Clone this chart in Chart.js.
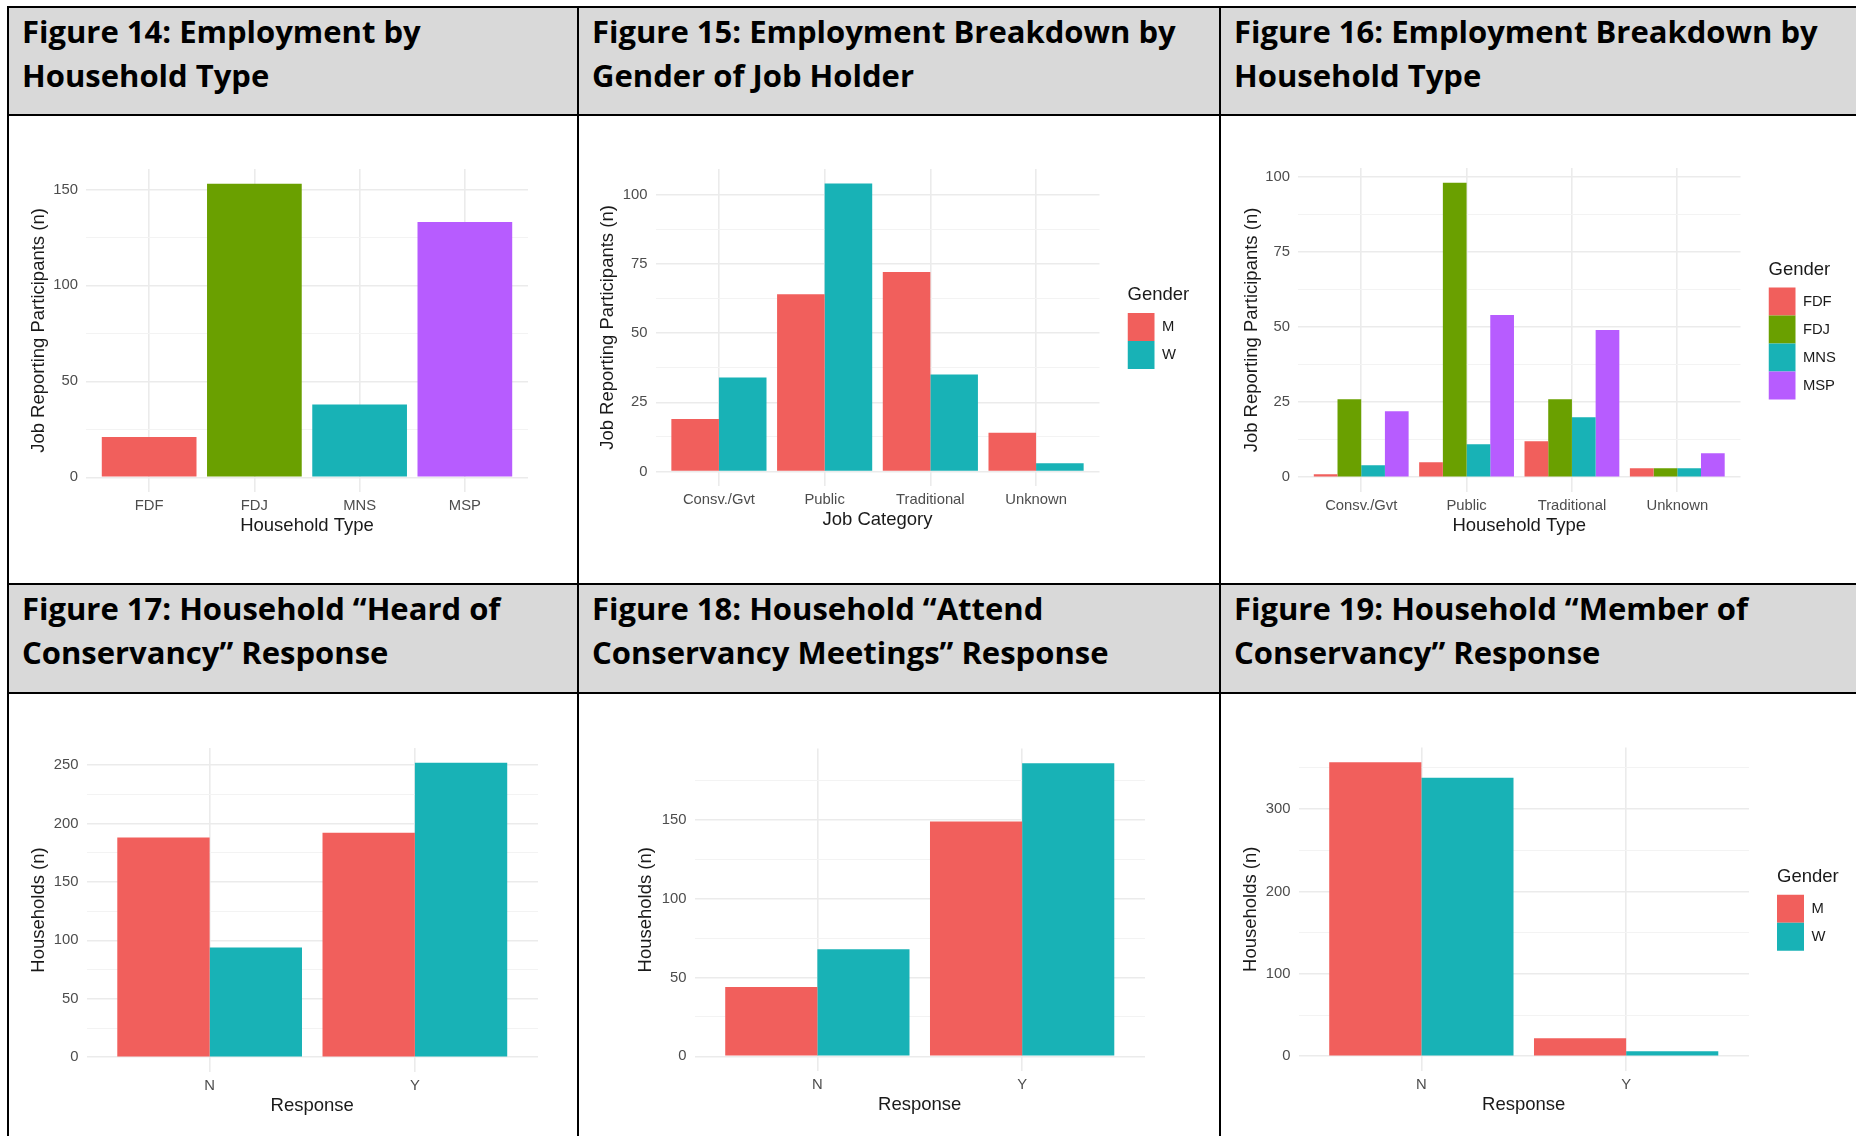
<!DOCTYPE html>
<html>
<head>
<meta charset="utf-8">
<title>Employment and conservancy response figures</title>
<script src="https://cdn.jsdelivr.net/npm/chart.js@4.4.1/dist/chart.umd.min.js"></script>
<style>
  html, body { margin: 0; padding: 0; background: #fff; }
  body { width: 1856px; height: 1136px; position: relative; overflow: hidden; }
  .cell { position: absolute; box-sizing: border-box; border: 2px solid #000; }
  .head {
    background: #d9d9d9;
    font: 700 31px/44px 'Open Sans', sans-serif;
    color: #000;
    padding: 1px 0 0 13px;
    white-space: nowrap;
  }
  .body { background: #fff; }
  canvas { position: absolute; }
</style>
</head>
<body>

<!-- top row -->
<div class="cell head" style="left:7px;top:6px;width:572px;height:110px">Figure 14: Employment by<br>Household Type</div>
<div class="cell head" style="left:577px;top:6px;width:644px;height:110px">Figure 15: Employment Breakdown by<br>Gender of Job Holder</div>
<div class="cell head" style="left:1219px;top:6px;width:700px;height:110px">Figure 16: Employment Breakdown by<br>Household Type</div>
<div class="cell body" style="left:7px;top:114px;width:572px;height:471px"></div>
<div class="cell body" style="left:577px;top:114px;width:644px;height:471px"></div>
<div class="cell body" style="left:1219px;top:114px;width:700px;height:471px"></div>

<!-- bottom row -->
<div class="cell head" style="left:7px;top:583px;width:572px;height:111px">Figure 17: Household “Heard of<br>Conservancy” Response</div>
<div class="cell head" style="left:577px;top:583px;width:644px;height:111px">Figure 18: Household “Attend<br>Conservancy Meetings” Response</div>
<div class="cell head" style="left:1219px;top:583px;width:700px;height:111px">Figure 19: Household “Member of<br>Conservancy” Response</div>
<div class="cell body" style="left:7px;top:692px;width:572px;height:500px"></div>
<div class="cell body" style="left:577px;top:692px;width:644px;height:500px"></div>
<div class="cell body" style="left:1219px;top:692px;width:700px;height:500px"></div>

<canvas id="fig14" width="568" height="467" style="left:9px;top:116px"></canvas>
<canvas id="fig15" width="640" height="467" style="left:579px;top:116px"></canvas>
<canvas id="fig16" width="635" height="467" style="left:1221px;top:116px"></canvas>
<canvas id="fig17" width="568" height="442" style="left:9px;top:694px"></canvas>
<canvas id="fig18" width="640" height="442" style="left:579px;top:694px"></canvas>
<canvas id="fig19" width="635" height="442" style="left:1221px;top:694px"></canvas>

<script>
// ---- data ----
const householdTypes = ['FDF', 'FDJ', 'MNS', 'MSP'];
const jobsByHousehold = [21, 153, 38, 133];

const jobCategories = ['Consv./Gvt', 'Public', 'Traditional', 'Unknown'];
const jobsMen = [19, 64, 72, 14];
const jobsWomen = [34, 104, 35, 3];

const jobsFDF = [1, 5, 12, 3];
const jobsFDJ = [26, 98, 26, 3];
const jobsMNS = [4, 11, 20, 3];
const jobsMSP = [22, 54, 49, 8];

const responses = ['N', 'Y'];
const heardMen = [188, 192];
const heardWomen = [94, 252];
const attendMen = [44, 149];
const attendWomen = [68, 186];
const memberMen = [357, 22];
const memberWomen = [338, 6];

// ---- look ----
const FAMILY = "'Liberation Sans', Arial, sans-serif";
const RED = '#F15F5C';
const GREEN = '#6AA000';
const TEAL = '#18B2B6';
const PURPLE = '#B75CFF';
const AXIS_TEXT = '#4d4d4d';
const TITLE_TEXT = '#1a1a1a';
const GRID_MAJOR = '#ebebeb';
const GRID_MINOR = '#f3f3f3';
const TICK_SIZE = 14.8;
const TITLE_SIZE = 18.5;
const X_AXIS_H = 45;
const LEGEND_GAP = 28;
const LEGEND_W = 75;

// plot panels on the page (left, top, right, bottom) and the y title centre
const frames = {
  fig14: { left: 86, top: 169, right: 528, bottom: 492, yTitle: 39 },
  fig15: { left: 655.5, top: 169, right: 1099.5, bottom: 486, yTitle: 608 },
  fig16: { left: 1298, top: 168, right: 1740.5, bottom: 492, yTitle: 1251.5 },
  fig17: { left: 86.5, top: 748, right: 538, bottom: 1072, yTitle: 39 },
  fig18: { left: 694.5, top: 748.5, right: 1145, bottom: 1071, yTitle: 646 },
  fig19: { left: 1298.5, top: 747.5, right: 1749, bottom: 1071, yTitle: 1250.5 }
};

// the legend box gets a fixed width so the panel does not move with label length
const fixedLegendWidth = {
  id: 'fixedLegendWidth',
  afterInit(chart) {
    const legend = chart.legend;
    if (!legend) return;
    const fit = legend.fit;
    legend.fit = function () {
      fit.call(this);
      if (this.options.display) this.width = LEGEND_W;
    };
  }
};

// ggplot-style dodged bar chart: 5% value padding, 0.6 category padding,
// minor grid lines halfway between the labelled ones
function ggBarChart(id, spec) {
  const canvas = document.getElementById(id);
  const frame = frames[id];
  const x0 = canvas.offsetLeft;
  const y0 = canvas.offsetTop;
  const titleLeft = frame.yTitle - TITLE_SIZE * 0.6;
  const peak = Math.max(...spec.series.flatMap(s => s.values));
  const n = spec.categories.length;
  const legendRoom = spec.legend ? LEGEND_GAP + LEGEND_W : 0;
  const isMajor = v => Math.abs(v / spec.major - Math.round(v / spec.major)) < 1e-6;

  const tickFont = { family: FAMILY, size: TICK_SIZE };
  const titleFont = { family: FAMILY, size: TITLE_SIZE };

  const scales = {
    x: {
      type: 'linear',
      min: 1 - 0.6,
      max: n + 0.6,
      offset: false,
      border: { display: false },
      grid: { offset: false, color: GRID_MAJOR, lineWidth: 1.6, drawTicks: false },
      ticks: {
        stepSize: 1,
        includeBounds: false,
        autoSkip: false,
        maxRotation: 0,
        padding: 5,
        color: AXIS_TEXT,
        font: tickFont,
        callback: v => spec.categories[Math.round(v) - 1]
      },
      title: { display: true, text: spec.xTitle, color: TITLE_TEXT, font: titleFont, padding: 0 },
      afterFit: s => { s.height = X_AXIS_H; }
    },
    y: {
      min: -0.05 * peak,
      max: 1.05 * peak,
      border: { display: false },
      grid: {
        drawTicks: false,
        color: c => isMajor(c.tick.value) ? GRID_MAJOR : GRID_MINOR,
        lineWidth: c => isMajor(c.tick.value) ? 1.6 : 1
      },
      ticks: {
        stepSize: spec.major / 2,
        includeBounds: false,
        padding: 8,
        color: AXIS_TEXT,
        font: tickFont,
        callback: v => isMajor(v) ? String(Math.round(v)) : ''
      },
      title: { display: true, text: spec.yTitle, color: TITLE_TEXT, font: titleFont, padding: 0 },
      afterFit: s => { s.width = frame.left - titleLeft; }
    }
  };

  // empty axis that keeps the legend clear of the panel
  if (spec.legend) {
    scales.gap = {
      type: 'linear',
      position: 'right',
      grid: { display: false },
      border: { display: false },
      ticks: { display: false },
      afterFit: s => { s.width = LEGEND_GAP; }
    };
  }

  return new Chart(canvas, {
    type: 'bar',
    data: {
      datasets: spec.series.map(s => ({
        label: s.label,
        data: s.values.map((v, i) => ({ x: i + 1, y: v })),
        backgroundColor: s.color,
        borderWidth: 0,
        categoryPercentage: 0.9,
        barPercentage: 1
      }))
    },
    options: {
      responsive: false,
      animation: false,
      events: [],
      layout: {
        padding: {
          left: titleLeft - x0,
          top: frame.top - y0,
          right: x0 + canvas.width - frame.right - legendRoom,
          bottom: y0 + canvas.height - frame.bottom - X_AXIS_H
        }
      },
      scales,
      plugins: {
        tooltip: { enabled: false },
        legend: {
          display: !!spec.legend,
          position: 'right',
          align: 'center',
          fullSize: false,
          title: {
            display: true,
            text: spec.legend,
            position: 'start',
            color: TITLE_TEXT,
            font: titleFont,
            padding: { top: 0, bottom: 5 }
          },
          labels: {
            boxWidth: 27,
            boxHeight: 28,
            padding: 0,
            color: TITLE_TEXT,
            font: tickFont
          }
        }
      }
    },
    plugins: [fixedLegendWidth]
  });
}

window.addEventListener('DOMContentLoaded', () => {
  ggBarChart('fig14', {
    categories: householdTypes,
    series: [{ label: 'Jobs', values: jobsByHousehold, color: [RED, GREEN, TEAL, PURPLE] }],
    major: 50,
    xTitle: 'Household Type',
    yTitle: 'Job Reporting Participants (n)'
  });

  ggBarChart('fig15', {
    categories: jobCategories,
    series: [
      { label: 'M', values: jobsMen, color: RED },
      { label: 'W', values: jobsWomen, color: TEAL }
    ],
    major: 25,
    xTitle: 'Job Category',
    yTitle: 'Job Reporting Participants (n)',
    legend: 'Gender'
  });

  ggBarChart('fig16', {
    categories: jobCategories,
    series: [
      { label: 'FDF', values: jobsFDF, color: RED },
      { label: 'FDJ', values: jobsFDJ, color: GREEN },
      { label: 'MNS', values: jobsMNS, color: TEAL },
      { label: 'MSP', values: jobsMSP, color: PURPLE }
    ],
    major: 25,
    xTitle: 'Household Type',
    yTitle: 'Job Reporting Participants (n)',
    legend: 'Gender'
  });

  ggBarChart('fig17', {
    categories: responses,
    series: [
      { label: 'M', values: heardMen, color: RED },
      { label: 'W', values: heardWomen, color: TEAL }
    ],
    major: 50,
    xTitle: 'Response',
    yTitle: 'Households (n)'
  });

  ggBarChart('fig18', {
    categories: responses,
    series: [
      { label: 'M', values: attendMen, color: RED },
      { label: 'W', values: attendWomen, color: TEAL }
    ],
    major: 50,
    xTitle: 'Response',
    yTitle: 'Households (n)'
  });

  ggBarChart('fig19', {
    categories: responses,
    series: [
      { label: 'M', values: memberMen, color: RED },
      { label: 'W', values: memberWomen, color: TEAL }
    ],
    major: 100,
    xTitle: 'Response',
    yTitle: 'Households (n)',
    legend: 'Gender'
  });
});
</script>
</body>
</html>
